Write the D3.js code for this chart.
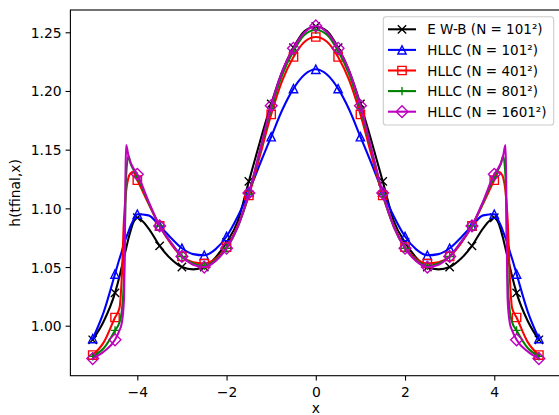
<!DOCTYPE html>
<html>
<head>
<meta charset="utf-8">
<script src="https://cdn.jsdelivr.net/npm/d3@7"></script>
<style>
  html, body { margin: 0; padding: 0; background: #fff; }
  svg { display: block; }
  text { font-family: "DejaVu Sans", sans-serif; fill: #000; }
</style>
</head>
<body>
<svg id="chart" width="559" height="415"></svg>
<script>
// ---- data ----
const xValues = [-5,-4.75,-4.5,-4.4,-4.35,-4.3,-4.25,-4.2,-4.15,-4.1,-4,-3.75,-3.5,-3.25,-3,-2.75,-2.5,-2.25,-2,-1.75,-1.5,-1.25,-1,-0.75,-0.5,-0.25,0,
  0.25,0.5,0.75,1,1.25,1.5,1.75,2,2.25,2.5,2.75,3,3.25,3.5,3.75,4,4.1,4.15,4.2,4.25,4.3,4.35,4.4,4.5,4.75,5];

const ewb101 = [0.988,1.004,1.028,1.042,1.050,1.058,1.066,1.074,1.081,1.087,1.092,1.083,1.068,1.057,1.050,1.048,1.050,1.058,1.071,1.089,1.123,1.157,1.189,1.217,1.237,1.251,1.255,
  1.251,1.237,1.217,1.189,1.157,1.123,1.089,1.071,1.058,1.050,1.048,1.050,1.057,1.068,1.083,1.092,1.087,1.081,1.074,1.066,1.058,1.050,1.042,1.028,1.004,0.988];

const hllc101 = [0.989,1.012,1.044,1.057,1.063,1.070,1.075,1.080,1.085,1.089,1.095,1.094,1.085,1.075,1.066,1.061,1.060,1.065,1.076,1.093,1.114,1.138,1.161,1.184,1.202,1.214,1.2185,
  1.214,1.202,1.184,1.161,1.138,1.114,1.093,1.076,1.065,1.060,1.061,1.066,1.075,1.085,1.094,1.095,1.089,1.085,1.080,1.075,1.070,1.063,1.057,1.044,1.012,0.989];

const hllc401 = [0.975,0.986,1.007,1.015,1.040,1.090,1.115,1.126,1.130,1.131,1.124,1.104,1.085,1.070,1.059,1.054,1.053,1.057,1.067,1.085,1.111,1.145,1.180,1.209,1.229,1.242,1.246,
  1.242,1.229,1.209,1.180,1.145,1.111,1.085,1.067,1.057,1.053,1.054,1.059,1.070,1.085,1.104,1.124,1.131,1.130,1.126,1.115,1.090,1.040,1.015,1.007,0.986,0.975];

const hllc801 = [0.974,0.981,0.996,1.003,1.012,1.040,1.128,1.1445,1.138,1.134,1.127,1.105,1.085,1.071,1.059,1.053,1.051,1.056,1.066,1.084,1.112,1.149,1.185,1.214,1.234,1.248,1.252,
  1.248,1.234,1.214,1.185,1.149,1.112,1.084,1.066,1.056,1.051,1.053,1.059,1.071,1.085,1.105,1.127,1.134,1.138,1.1445,1.128,1.040,1.012,1.003,0.996,0.981,0.974];

const hllc1601 = [0.972,0.978,0.988,0.996,1.002,1.022,1.154,1.145,1.139,1.135,1.129,1.106,1.085,1.071,1.059,1.052,1.050,1.055,1.066,1.084,1.113,1.150,1.1875,1.217,1.2364,1.250,1.2554,
  1.250,1.2364,1.217,1.1875,1.150,1.113,1.084,1.066,1.055,1.050,1.052,1.059,1.071,1.085,1.106,1.129,1.135,1.139,1.145,1.154,1.022,1.002,0.996,0.988,0.978,0.972];

const seriesNames = ["E W-B (N = 101²)","HLLC (N = 101²)","HLLC (N = 401²)","HLLC (N = 801²)","HLLC (N = 1601²)"];
const xTicks = [-4,-2,0,2,4];
const yTicks = [1.00,1.05,1.10,1.15,1.20,1.25];

// ---- styling ----
const colors = ["#000000","#0000ff","#ff0000","#008000","#bf00bf"];
const markers = ["x","^","s","+","D"];
const seriesValues = [ewb101, hllc101, hllc401, hllc801, hllc1601];

const padL = 70.4, padR = 561.2, padT = 10, padB = 375.7;
const svg = d3.select("#chart");
const x = d3.scaleLinear().domain([-5.5, 5.5]).range([padL, padR]);
const y = d3.scaleLinear().domain([0.9574, 1.2690]).range([padB, padT]);

svg.append("defs").append("clipPath").attr("id","clip")
  .append("rect").attr("x",padL).attr("y",padT).attr("width",padR-padL).attr("height",padB-padT);

const lw = 2.08, mew = 1.39, ms = 8.33;

function markerPath(type, s) {
  const h = s/2;
  switch(type) {
    case "x": return `M${-h},${-h}L${h},${h}M${-h},${h}L${h},${-h}`;
    case "+": return `M${-h},0L${h},0M0,${-h}L0,${h}`;
    case "^": return `M0,${-h}L${-h},${h}L${h},${h}Z`;
    case "s": return `M${-h},${-h}L${h},${-h}L${h},${h}L${-h},${h}Z`;
    case "D": { const d = h*Math.SQRT2; return `M0,${-d}L${d},0L0,${d}L${-d},0Z`; }
  }
}

const line = d3.line().x(d => x(d.x)).y(d => y(d.y)).curve(d3.curveMonotoneX);
const plot = svg.append("g").attr("clip-path","url(#clip)");

seriesValues.forEach((vals, i) => {
  const data = xValues.map((xv, k) => ({x: xv, y: vals[k]}));
  plot.append("path").datum(data)
    .attr("d", line).attr("fill","none")
    .attr("stroke", colors[i]).attr("stroke-width", lw)
    .attr("stroke-linejoin","round").attr("stroke-linecap","square");
  const marked = data.filter(d => Math.abs(d.x*2 - Math.round(d.x*2)) < 1e-9);
  plot.selectAll(null).data(marked)
    .enter().append("path")
    .attr("transform", d => `translate(${x(d.x)},${y(d.y)})`)
    .attr("d", markerPath(markers[i], ms))
    .attr("fill","none").attr("stroke", colors[i]).attr("stroke-width", mew);
});

// ---- axes ----
const tickLen = 4.86;
const xAxis = d3.axisBottom(x).tickValues(xTicks).tickSize(tickLen).tickPadding(4.86);
const gx = svg.append("g").attr("transform",`translate(0,${padB})`).call(xAxis);
gx.select(".domain").remove();
gx.selectAll(".tick line").attr("stroke","#000").attr("stroke-width",1.1);
gx.selectAll(".tick text").attr("font-size","13.9px").attr("font-family","DejaVu Sans").attr("fill","#000")
  .attr("dy", null).attr("y", 21);

const yAxis = d3.axisLeft(y).tickValues(yTicks).tickSize(tickLen).tickPadding(4.86).tickFormat(d3.format(".2f"));
const gy = svg.append("g").attr("transform",`translate(${padL},0)`).call(yAxis);
gy.select(".domain").remove();
gy.selectAll(".tick line").attr("stroke","#000").attr("stroke-width",1.1);
gy.selectAll(".tick text").attr("font-size","13.9px").attr("font-family","DejaVu Sans").attr("fill","#000")
  .attr("dy", null).attr("y", 5).attr("x", -8.8);

// spines
svg.append("rect").attr("x",padL).attr("y",padT).attr("width",padR-padL).attr("height",padB-padT)
  .attr("fill","none").attr("stroke","#000").attr("stroke-width",1.1);

// axis labels
svg.append("text").attr("x", (padL + padR)/2).attr("y", 413).attr("text-anchor","middle")
  .attr("font-size","13.9px").text("x");
svg.append("text").attr("transform", `translate(19.5,${(padT+padB)/2}) rotate(-90)`)
  .attr("text-anchor","middle").attr("font-size","13.9px").text("h(tfinal,x)");

// ---- legend ----
const lg = svg.append("g");
lg.append("rect").attr("x",383.3).attr("y",16.7).attr("width",170.4).attr("height",108.3)
  .attr("rx",2.8).attr("ry",2.8)
  .attr("fill","#fff").attr("fill-opacity",0.8).attr("stroke","#cccccc").attr("stroke-width",1.1);
seriesNames.forEach((name, i) => {
  const cy = 29.3 + i*20.6;
  lg.append("line").attr("x1",388).attr("x2",416).attr("y1",cy).attr("y2",cy)
    .attr("stroke",colors[i]).attr("stroke-width",lw);
  lg.append("path").attr("transform",`translate(402,${cy})`).attr("d", markerPath(markers[i], ms))
    .attr("fill","none").attr("stroke",colors[i]).attr("stroke-width",mew);
  lg.append("text").attr("x",427.3).attr("y",cy+5).attr("font-size","13.5px").text(name);
});
</script>
</body>
</html>
